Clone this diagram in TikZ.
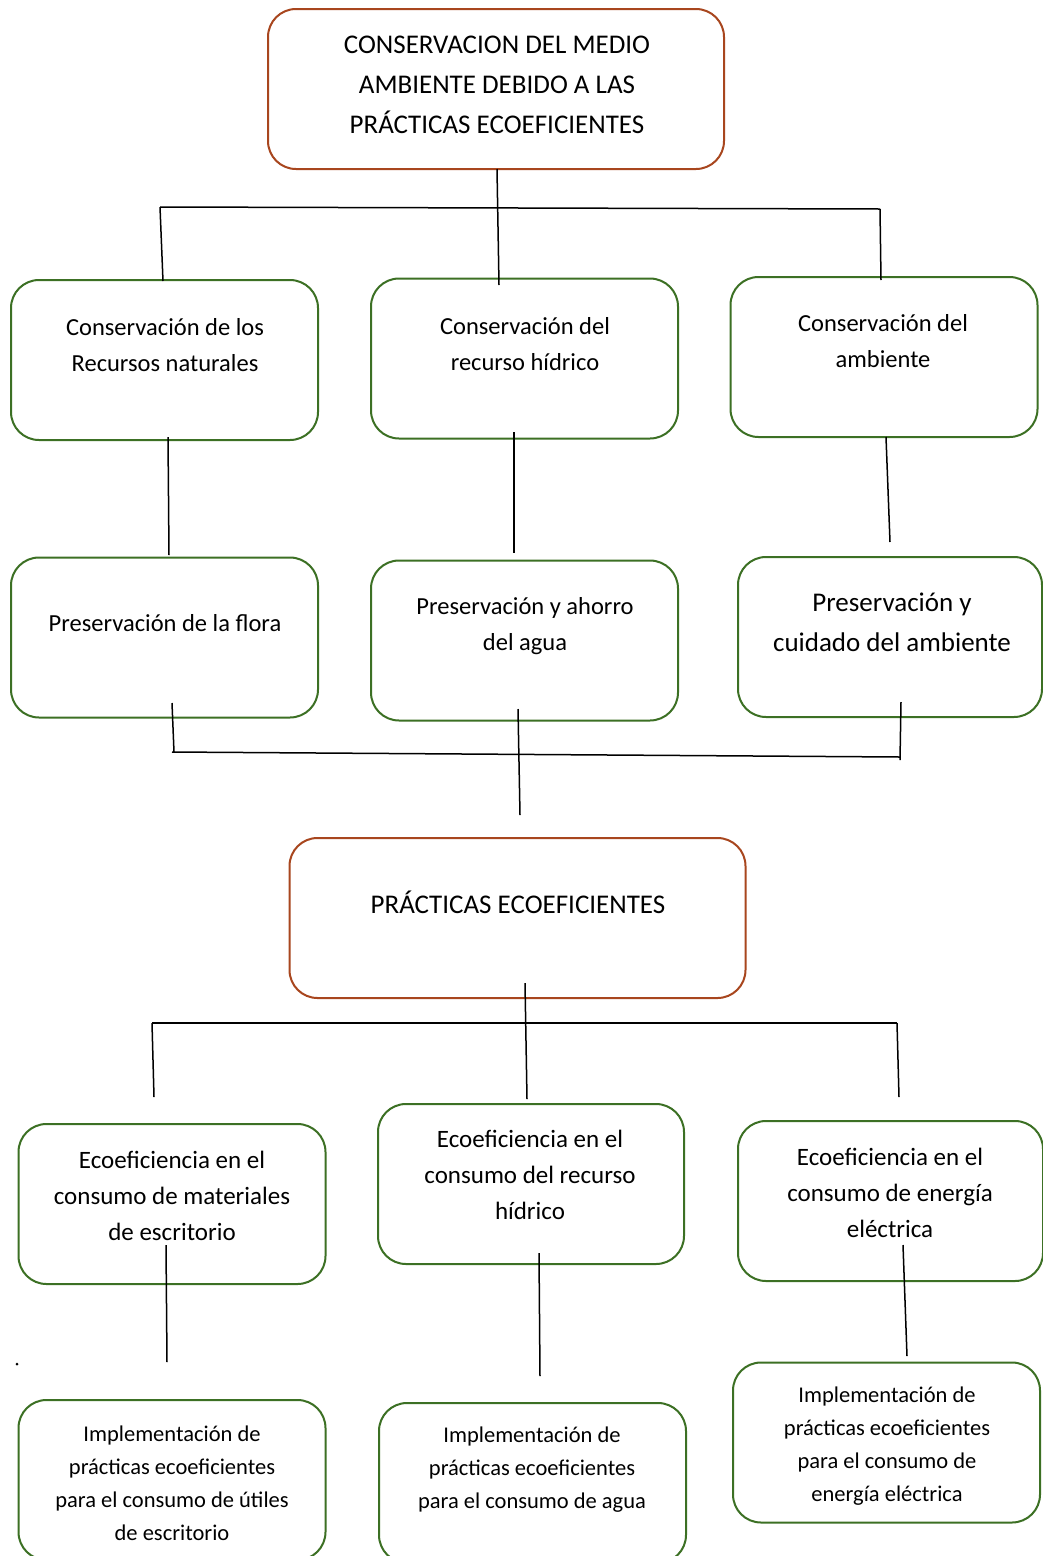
\documentclass[tikz,border=0pt]{standalone}
\usepackage{fontspec}
\setmainfont{Carlito}
\definecolor{brd}{RGB}{168,70,30}
\definecolor{grn}{RGB}{60,112,36}
\begin{document}
\begin{tikzpicture}[x=1pt,y=-1pt,
  box/.style={draw, line width=2pt, rounded corners=28pt, inner sep=0pt, minimum width=307pt, minimum height=160pt},
  redbox/.style={box, draw=brd, minimum width=456pt},
  grnbox/.style={box, draw=grn},
  txt/.style={align=center, inner sep=0pt, text=black},
  con/.style={draw=black, line width=1.5pt}]
\useasboundingbox (0,0) rectangle (1043,1556);
\fill[white] (0,0) rectangle (1043,1556);

% boxes
\node[redbox] (top) at (496,89) {};
\node[grnbox] (l1) at (164.5,360) {};
\node[grnbox] (l2) at (524.5,358.5) {};
\node[grnbox] (l3) at (884,357) {};
\node[grnbox] (p1) at (164.5,637.5) {};
\node[grnbox] (p2) at (524.5,640.5) {};
\node[grnbox, minimum width=304pt] (p3) at (890,637) {};
\node[redbox] (pr) at (517.5,918) {};
\node[grnbox] (e1) at (172,1204) {};
\node[grnbox, minimum width=306pt] (e2) at (531,1184) {};
\node[grnbox, minimum width=305pt] (e3) at (890.5,1201) {};
\node[grnbox] (i1) at (172,1480) {};
\node[grnbox] (i2) at (532.5,1483) {};
\node[grnbox] (i3) at (886.5,1442.5) {};

% texts
\node[txt, font=\fontsize{27}{40}\selectfont] (topt) at (497,85) {CONSERVACION DEL MEDIO\\AMBIENTE DEBIDO A LAS\\PRÁCTICAS ECOEFICIENTES};
\node[txt, font=\fontsize{24.5}{36}\selectfont] (l1t) at (165,345) {Conservación de los\\Recursos naturales};
\node[txt, font=\fontsize{24.5}{36}\selectfont] (l2t) at (525,344) {Conservación del\\recurso hídrico};
\node[txt, font=\fontsize{24.5}{36}\selectfont] (l3t) at (883,341) {Conservación del\\ambiente};
\node[txt, font=\fontsize{24.5}{36}\selectfont] (p1t) at (165,623) {Preservación de la flora};
\node[txt, font=\fontsize{24.5}{36}\selectfont] (p2t) at (525,626) {Preservación y ahorro\\del agua};
\node[txt, font=\fontsize{27}{40}\selectfont] (p3t) at (892,622) {Preservación y\\cuidado del ambiente};
\node[txt, font=\fontsize{27}{40}\selectfont] (prt) at (518,902) {PRÁCTICAS ECOEFICIENTES};
\node[txt, font=\fontsize{25}{36}\selectfont] (e1t) at (172,1196) {Ecoeficiencia en el\\consumo de materiales\\de escritorio};
\node[txt, font=\fontsize{25}{36}\selectfont] (e2t) at (530,1175) {Ecoeficiencia en el\\consumo del recurso\\hídrico};
\node[txt, font=\fontsize{25}{36}\selectfont] (e3t) at (890,1193) {Ecoeficiencia en el\\consumo de energía\\eléctrica};
\node[txt, font=\fontsize{22.5}{33}\selectfont] (i1t) at (172,1483) {Implementación de\\prácticas ecoeficientes\\para el consumo de útiles\\de escritorio};
\node[txt, font=\fontsize{22.5}{33}\selectfont] (i2t) at (532,1470) {Implementación de\\prácticas ecoeficientes\\para el consumo de agua};
\node[txt, font=\fontsize{22.5}{33}\selectfont] (i3t) at (887,1446) {Implementación de\\prácticas ecoeficientes\\para el consumo de\\energía eléctrica};

% junction coordinates
\coordinate (a0) at (497,169);
\coordinate (a1) at (499,285);
\coordinate (aL) at (160,207);
\coordinate (aR) at (880,209);
\coordinate (aL2) at (163,281);
\coordinate (aR2) at (881,280);
\coordinate (b1s) at (168,437);
\coordinate (b1e) at (169,555);
\coordinate (b2s) at (514,432);
\coordinate (b2e) at (514,553);
\coordinate (b3s) at (886,437);
\coordinate (b3e) at (890,542);
\coordinate (c1s) at (172,703);
\coordinate (c1e) at (174,752);
\coordinate (cL) at (172,752);
\coordinate (cR) at (900,757);
\coordinate (c3s) at (901,702);
\coordinate (c3e) at (900,760);
\coordinate (c2s) at (518,709);
\coordinate (c2e) at (520,815);
\coordinate (d0) at (525,983);
\coordinate (d1) at (527,1099);
\coordinate (dL) at (152,1023);
\coordinate (dR) at (897,1023);
\coordinate (dL2) at (154,1097);
\coordinate (dR2) at (899,1097);
\coordinate (f1s) at (166,1245);
\coordinate (f1e) at (167,1362);
\coordinate (f2s) at (539,1253);
\coordinate (f2e) at (540,1376);
\coordinate (f3s) at (903,1245);
\coordinate (f3e) at (907,1356);

% connectors
\draw[con] (a0) -- (a1);
\draw[con] (aL) -- (aR);
\draw[con] (aL) -- (aL2);
\draw[con] (aR) -- (aR2);
\draw[con] (b1s) -- (b1e);
\draw[con] (b2s) -- (b2e);
\draw[con] (b3s) -- (b3e);
\draw[con] (c1s) -- (c1e);
\draw[con] (cL) -- (cR);
\draw[con] (c3s) -- (c3e);
\draw[con] (c2s) -- (c2e);
\draw[con] (d0) -- (d1);
\draw[con] (dL) -- (dR);
\draw[con] (dL) -- (dL2);
\draw[con] (dR) -- (dR2);
\draw[con] (f1s) -- (f1e);
\draw[con] (f2s) -- (f2e);
\draw[con] (f3s) -- (f3e);

\fill[black] (17,1364) circle (1.5pt);
\end{tikzpicture}
\end{document}
